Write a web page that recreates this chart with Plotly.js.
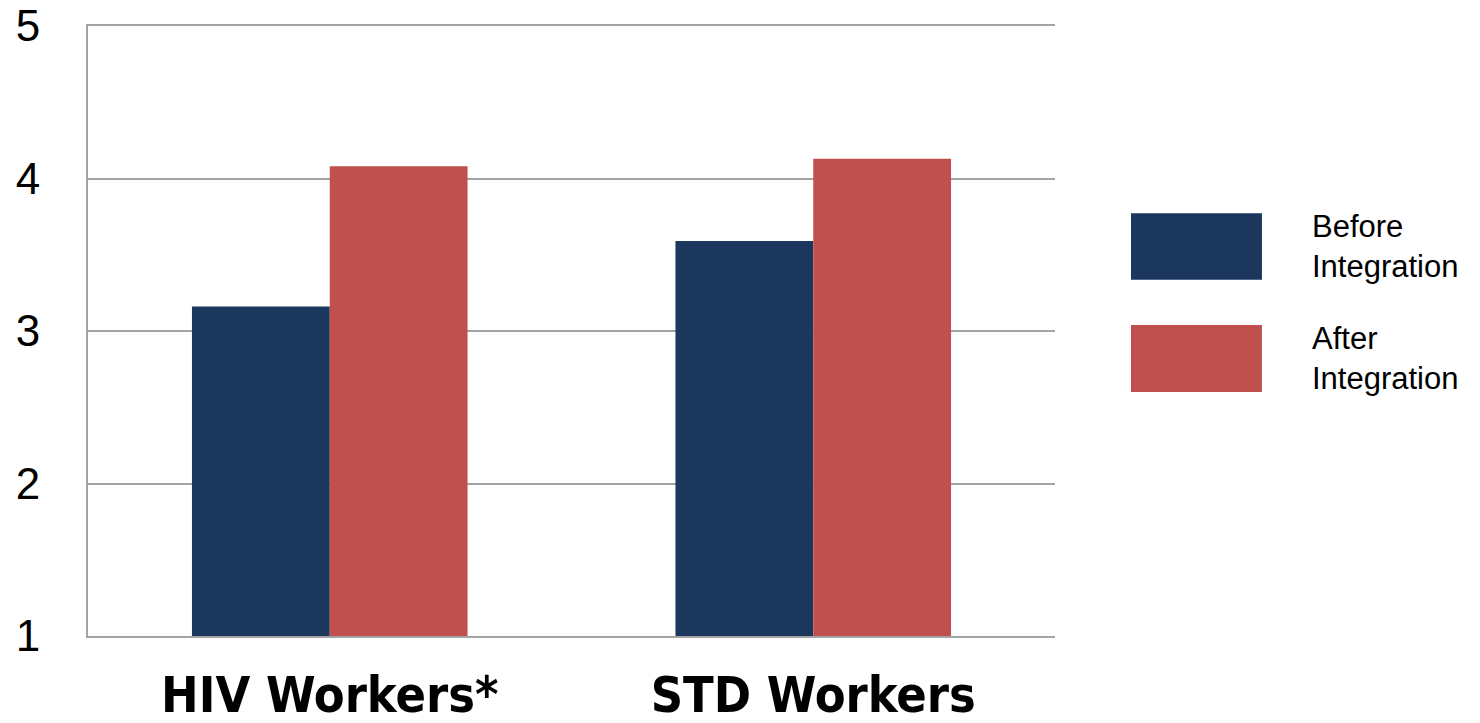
<!DOCTYPE html>
<html>
<head>
<meta charset="utf-8">
<script src="https://cdn.plot.ly/plotly-3.0.1.min.js"></script>
<style>
  html, body { margin: 0; padding: 0; background: #ffffff; }
  #chart { width: 1480px; height: 723px; }
</style>
</head>
<body>
<div id="chart"></div>
<script>
// Worker groups and mean scores before / after integration
const categories = ['HIV Workers*', 'STD Workers'];
const beforeValues = [3.16, 3.59];
const afterValues = [4.08, 4.13];
const seriesNames = ['Before<br>Integration', 'After<br>Integration'];
const seriesColors = ['#1b375e', '#c0504d'];
const yTicks = [1, 2, 3, 4, 5];
const axisFloor = 1;

// Bars rise from the axis floor (1) up to each value
const traces = [beforeValues, afterValues].map((vals, i) => ({
  type: 'bar',
  x: categories,
  y: vals.map(v => v - axisFloor),
  base: axisFloor,
  name: seriesNames[i],
  marker: { color: seriesColors[i], line: { width: 0 } },
  hoverinfo: 'x+y'
}));

// Legend drawn as large swatches with wrapped labels on the right
const legendItems = [
  { y0: 0.584, y1: 0.693 },
  { y0: 0.400, y1: 0.510 }
];
const shapes = legendItems.map((it, i) => ({
  type: 'rect', xref: 'paper', yref: 'paper',
  x0: 1.0786, x1: 1.214, y0: it.y0, y1: it.y1,
  fillcolor: seriesColors[i], line: { width: 0 }
}));
const annotations = legendItems.map((it, i) => ({
  xref: 'paper', yref: 'paper',
  x: 1.2637, y: (it.y0 + it.y1) / 2,
  xanchor: 'left', yanchor: 'middle', align: 'left',
  text: seriesNames[i], showarrow: false,
  font: { family: 'Liberation Sans, Arial, sans-serif', size: 31, color: '#000000' }
}));

const layout = {
  width: 1480,
  height: 723,
  margin: { l: 88, r: 425, t: 26, b: 87 },
  paper_bgcolor: '#ffffff',
  plot_bgcolor: '#ffffff',
  showlegend: false,
  barmode: 'group',
  bargap: 0.43,
  bargroupgap: 0,
  xaxis: {
    type: 'category',
    range: [-0.5, 1.5],
    showgrid: false,
    showline: true,
    mirror: true,
    linecolor: '#a3a3a3',
    linewidth: 2,
    zeroline: false,
    ticks: '',
    ticklabelstandoff: 14,
    tickfont: { family: 'DejaVu Sans Condensed, Liberation Sans Narrow, sans-serif', size: 50, color: '#000000', weight: 'bold' }
  },
  yaxis: {
    range: [1, 5],
    tickvals: yTicks,
    ticktext: yTicks.map(String),
    showgrid: true,
    gridcolor: '#a3a3a3',
    gridwidth: 2,
    showline: true,
    linecolor: '#a3a3a3',
    linewidth: 2,
    zeroline: false,
    ticks: '',
    ticklabelstandoff: 37,
    tickfont: { family: 'Liberation Sans, Arial, sans-serif', size: 44, color: '#000000' }
  },
  shapes: shapes,
  annotations: annotations
};

Plotly.newPlot('chart', traces, layout, { displayModeBar: false, staticPlot: true });
</script>
</body>
</html>
